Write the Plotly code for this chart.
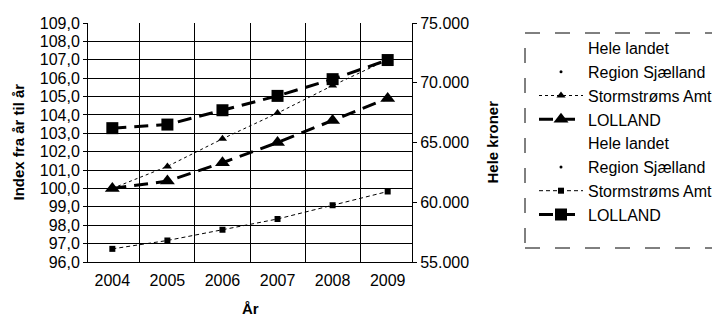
import plotly.graph_objects as go

years = ["2004", "2005", "2006", "2007", "2008", "2009"]
idx_storstrom = [100.0, 101.2, 102.7, 104.1, 105.6, 107.0]
idx_lolland = [100.0, 100.4, 101.4, 102.5, 103.7, 104.9]
kr_storstrom = [56100, 56800, 57700, 58600, 59750, 60900]
kr_lolland = [66200, 66500, 67700, 68900, 70300, 71900]
empty = [None] * len(years)

FONT = "Liberation Sans, Arial, sans-serif"
W, H = 712, 320
L, R, T, B = 88, 412, 23, 262
PW, PH = R - L, B - T

fig = go.Figure()
# Index series (left axis)
fig.add_trace(go.Scatter(x=years, y=empty, name="Hele landet", mode="lines", legendgroup="g1",
                         line=dict(color="rgba(0,0,0,0)", width=1)))
fig.add_trace(go.Scatter(x=years, y=empty, name="Region Sjælland", mode="markers", legendgroup="g2",
                         marker=dict(symbol="circle", size=3, color="black")))
fig.add_trace(go.Scatter(x=years, y=idx_storstrom, name="Stormstrøms Amt", mode="lines+markers",
                         legendgroup="g3",
                         line=dict(color="black", width=1, dash="3px,3px"),
                         marker=dict(symbol="triangle-up", size=8, color="black")))
fig.add_trace(go.Scatter(x=years, y=idx_lolland, name="LOLLAND", mode="lines+markers", legendgroup="g4",
                         line=dict(color="black", width=3, dash="14px,8px"),
                         marker=dict(symbol="triangle-up", size=13, color="black")))
# Kroner series (right axis)
fig.add_trace(go.Scatter(x=years, y=empty, name="Hele landet", mode="lines", yaxis="y2", legendgroup="g5",
                         line=dict(color="rgba(0,0,0,0)", width=1)))
fig.add_trace(go.Scatter(x=years, y=empty, name="Region Sjælland", mode="markers", yaxis="y2",
                         legendgroup="g6",
                         marker=dict(symbol="circle", size=3, color="black")))
fig.add_trace(go.Scatter(x=years, y=kr_storstrom, name="Stormstrøms Amt", mode="lines+markers", yaxis="y2",
                         legendgroup="g7",
                         line=dict(color="black", width=1, dash="4px,3px"),
                         marker=dict(symbol="square", size=6, color="black")))
fig.add_trace(go.Scatter(x=years, y=kr_lolland, name="LOLLAND", mode="lines+markers", yaxis="y2",
                         legendgroup="g8",
                         line=dict(color="black", width=3, dash="14px,8px"),
                         marker=dict(symbol="square", size=12, color="black")))

fig.update_layout(
    width=W, height=H,
    margin=dict(l=L, r=W - R, t=T, b=H - B, autoexpand=False),
    paper_bgcolor="white", plot_bgcolor="white",
    separators=",.",
    font=dict(family=FONT, size=16, color="black"),
    showlegend=True,
    legend=dict(xref="container", yref="container",
                x=534 / W, y=1 - 31 / H, xanchor="left", yanchor="top",
                bgcolor="rgba(0,0,0,0)", borderwidth=0, maxheight=300,
                font=dict(family=FONT, size=16, color="black"),
                itemwidth=44, tracegroupgap=2, traceorder="normal"),
    xaxis=dict(type="category", tickson="boundaries", showgrid=True,
               gridcolor="black", gridwidth=1, showline=True, linecolor="black",
               mirror=False, ticks="", tickfont=dict(size=16), ticklabelstandoff=4),
    yaxis=dict(range=[96, 109], dtick=1, tickformat=".1f", showgrid=True,
               gridcolor="black", gridwidth=1, showline=True, linecolor="black",
               ticks="outside", ticklen=4, tickcolor="black", zeroline=False,
               tickfont=dict(size=16)),
    yaxis2=dict(range=[55000, 75000], dtick=5000, tickformat=",d", overlaying="y",
                side="right", showgrid=False, showline=True, linecolor="black",
                ticks="outside", ticklen=4, tickcolor="black", zeroline=False,
                tickfont=dict(size=16)),
    annotations=[
        dict(text="<b>Index fra år til år</b>", xref="paper", yref="paper",
             x=(18 - L) / PW, y=0.5, xanchor="center", yanchor="middle", textangle=-90,
             showarrow=False, font=dict(size=15)),
        dict(text="<b>Hele kroner</b>", xref="paper", yref="paper",
             x=(492 - L) / PW, y=0.5, xanchor="center", yanchor="middle", textangle=-90,
             showarrow=False, font=dict(size=15)),
        dict(text="<b>År</b>", xref="paper", yref="paper",
             x=(250 - L) / PW, y=(B - 308) / PH, xanchor="center", yanchor="middle",
             showarrow=False, font=dict(size=15)),
    ],
    shapes=[
        dict(type="rect", xref="paper", yref="paper",
             x0=(525 - L) / PW, x1=(800 - L) / PW,
             y0=(B - 248) / PH, y1=(B - 33) / PH,
             line=dict(color="black", width=1, dash="longdash")),
    ],
)

fig.write_html("out.html")
